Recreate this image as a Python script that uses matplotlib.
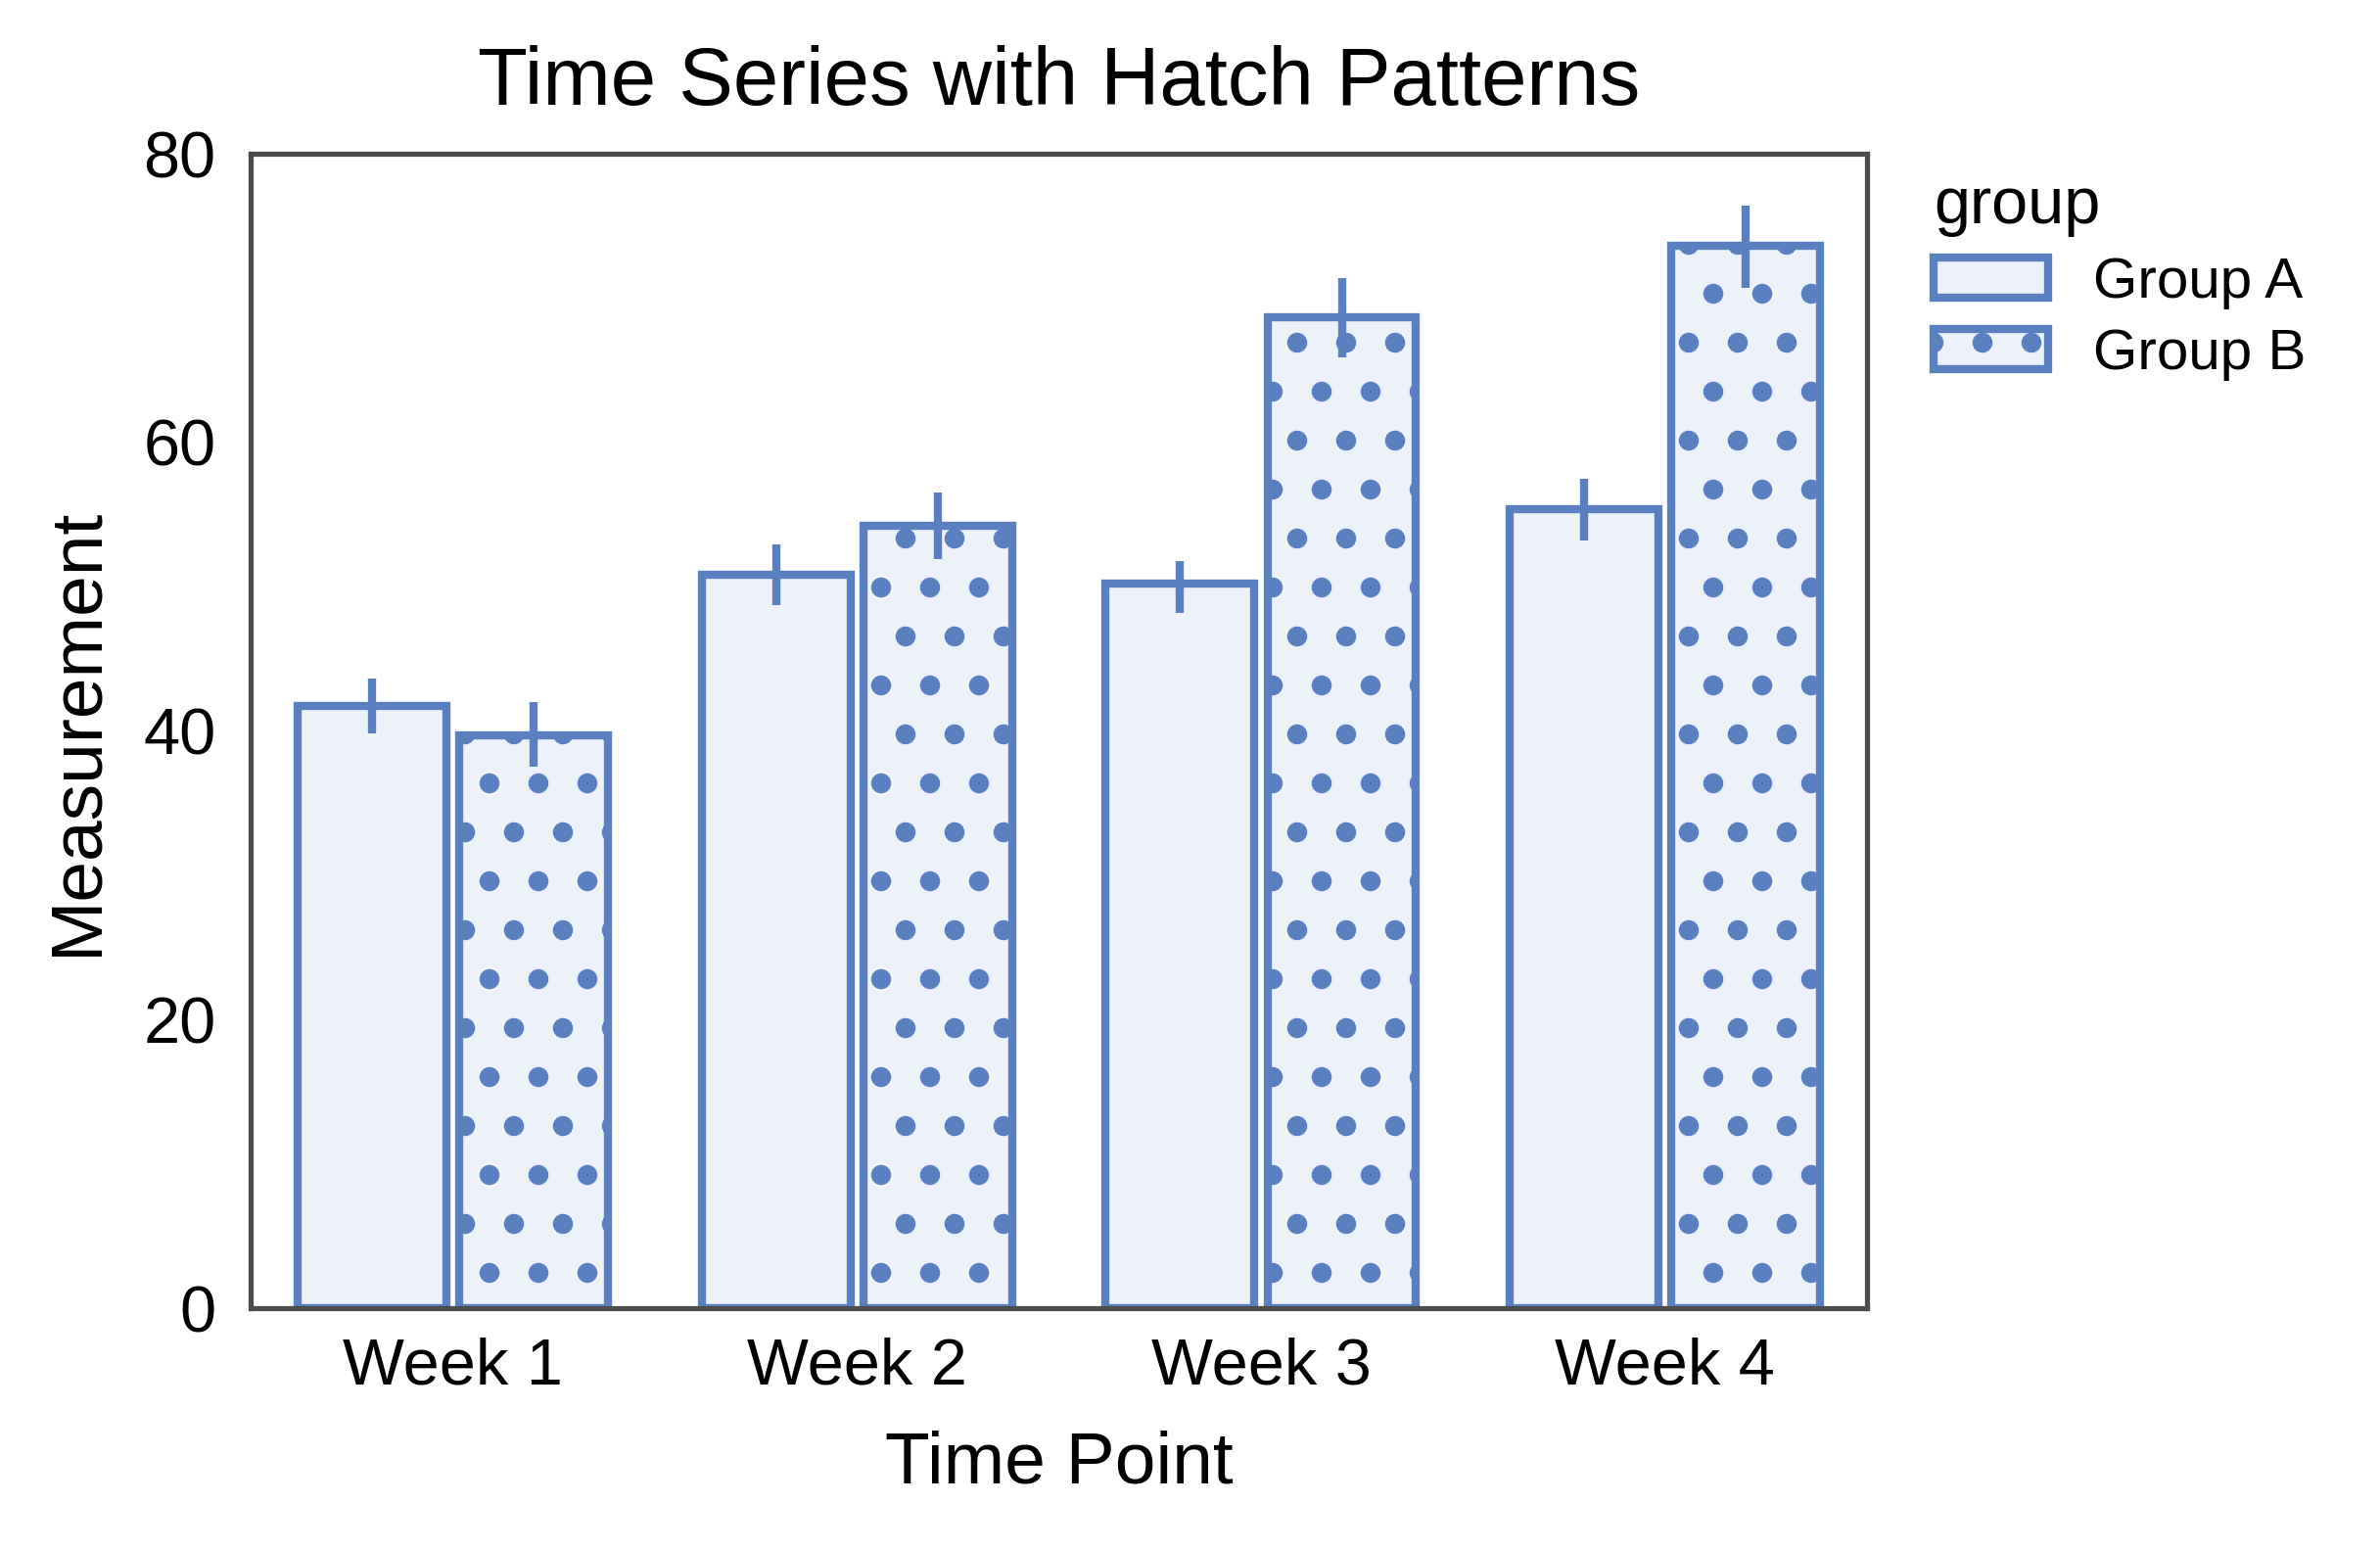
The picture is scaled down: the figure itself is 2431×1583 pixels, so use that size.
import matplotlib
matplotlib.use("Agg")
import matplotlib.pyplot as plt
import numpy as np

# values
weeks = ["Week 1", "Week 2", "Week 3", "Week 4"]
groups = ["Group A", "Group B"]
group_a_mean = [41.7, 50.8, 50.2, 55.4]
group_a_lo = [39.8, 48.7, 48.2, 53.2]
group_a_hi = [43.6, 52.9, 51.8, 57.5]
group_b_mean = [39.7, 54.2, 68.7, 73.6]
group_b_lo = [37.5, 51.9, 65.9, 70.7]
group_b_hi = [42.0, 56.5, 71.4, 76.4]
hatches = ["", "."]

plt.rcParams["font.family"] = ["Liberation Sans", "DejaVu Sans"]
plt.rcParams["hatch.linewidth"] = 2.5

edge = "#5B80C2"
fill = "#EDF1F8"
plt.rcParams["hatch.color"] = edge

fig = plt.figure(figsize=(2431 / 300, 1583 / 300), dpi=300)
ax = fig.add_axes([0.1053, 0.1560, 0.6792, 0.7448])

x = np.arange(len(weeks))
means = [group_a_mean, group_b_mean]
los = [group_a_lo, group_b_lo]
his = [group_a_hi, group_b_hi]
offsets = [-0.2, 0.2]

for i, name in enumerate(groups):
    pos = x + offsets[i]
    ax.bar(pos, means[i], width=0.368, color=fill, edgecolor=edge,
           linewidth=2.0, hatch=hatches[i], label=name, zorder=2)
    ax.vlines(pos, los[i], his[i], color=edge, linewidth=2.0, zorder=3)

ax.set_xlim(-0.5, 3.5)
ax.set_ylim(0, 80)
ax.set_yticks([0, 20, 40, 60, 80])
ax.set_xticks(x)
ax.set_xticklabels(weeks)
ax.tick_params(length=0, labelsize=16)
ax.tick_params(axis="x", pad=7)
ax.tick_params(axis="y", pad=8.5)

for s in ax.spines.values():
    s.set_color("#4c4c4c")
    s.set_linewidth(1.25)

ax.set_title("Time Series with Hatch Patterns", fontsize=20, pad=12)
ax.set_xlabel("Time Point", fontsize=18, labelpad=8)
ax.set_ylabel("Measurement", fontsize=18, labelpad=8)

leg = ax.legend(title="group", loc="upper left", bbox_to_anchor=(1.027, 1.0),
                borderaxespad=0, frameon=False, fontsize=14, title_fontsize=16,
                alignment="left", labelspacing=0.33)

fig.savefig("out.png", dpi=300)
